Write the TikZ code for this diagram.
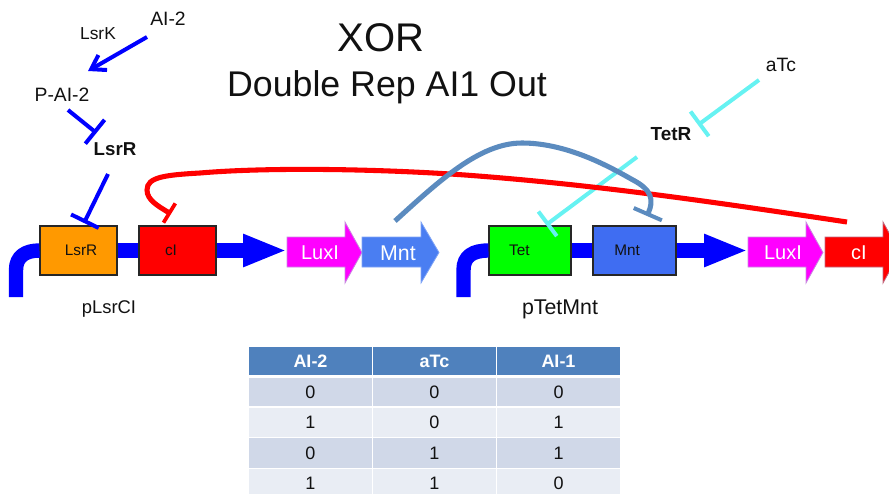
\documentclass[tikz,border=0pt]{standalone}
\usepackage{fontspec}
\setmainfont{Liberation Sans}
\usetikzlibrary{arrows.meta}
\definecolor{cblue}{HTML}{0000FF}
\definecolor{cyanT}{HTML}{66F2F2}
\definecolor{steelC}{HTML}{5B8BBF}
\definecolor{mntA}{HTML}{4A7EF2}
\definecolor{mntB}{HTML}{3F6DF2}
\definecolor{orangeB}{HTML}{FF9900}
\definecolor{greenB}{HTML}{00FF00}
\definecolor{magB}{HTML}{FF00FF}
\definecolor{redB}{HTML}{FF0000}
\definecolor{magE}{HTML}{C88CE0}
\definecolor{redE}{HTML}{C06A80}
\definecolor{thead}{HTML}{4F81BD}
\definecolor{todd}{HTML}{D0D8E8}
\definecolor{teven}{HTML}{E9EDF4}
\definecolor{txt}{HTML}{111111}
\newcommand{\fs}[1]{\fontsize{#1}{#1}\selectfont}
\newcommand{\genearrow}[5]{% x0, headstart, tip, fill, edge
  \fill[#4,draw=#5,line width=.6pt] (#1,237) -- (#2,237) -- (#2,222) -- (#3,252.5) -- (#2,283) -- (#2,267) -- (#1,267) -- cycle;}
\tikzset{
  x=.75pt,y=-.75pt,
  lab/.style={inner sep=0pt,text=txt,font=\fs{14.5}},
  gene/.style={draw=black!85,line width=.8pt,minimum width=#1,minimum height=36.75pt,inner sep=0pt,text=txt,font=\fs{11.5}},
  alab/.style={inner sep=0pt,text=white,font=\fs{15}},
  backbone/.style={cblue,line width=10.8pt},
  runarrow/.style={backbone,-{Triangle[length=33pt,width=22.5pt]}},
  tee/.style={line width=#1,-{Bar[width=23pt,line width=#1]}},
  bluetee/.style={cblue,tee=3pt},
  cyantee/.style={cyanT,tee=3pt},
  hd/.style={fill=thead,text=white,font=\fs{13.5}\bfseries,minimum width=92.25pt,minimum height=21pt,inner sep=0pt},
  ro/.style={fill=todd,text=txt,font=\fs{13.5},minimum width=92.25pt,minimum height=#1,inner sep=0pt},
  re/.style={fill=teven,text=txt,font=\fs{13.5},minimum width=92.25pt,minimum height=#1,inner sep=0pt}
}
\begin{document}
\begin{tikzpicture}
\useasboundingbox (0,0) rectangle (889,493);
% titles
\node[lab,font=\fs{30}] (xor) at (381,38) {XOR};
\node[lab,font=\fs{26.8}] (sub) at (387,87) {Double Rep AI1 Out};
% gene arrows
\genearrow{287}{345}{362}{magB}{magE}
\genearrow{362}{421}{439}{mntA}{mntA!70!white}
\genearrow{748}{806}{823}{magB}{magE}
\genearrow{825}{883}{900}{redB}{redE}
\node[alab] (lux1) at (320,253) {LuxI};
\node[alab,font=\fs{16}] (mnta) at (398,253) {Mnt};
\node[alab] (lux2) at (783,253) {LuxI};
\node[alab] (cia) at (859,253) {cI};
% boxes
\node[gene=57.75pt,fill=orangeB] (boxL) at (78.5,250.5) {LsrR\kern-3.75pt};
\node[gene=57.75pt,fill=redB] (boxC) at (177.5,250.5) {\kern-9.8pt cI};
\node[gene=61.5pt,fill=greenB] (boxT) at (530,250.5) {\kern-15.8pt Tet};
\node[gene=62.25pt,fill=mntB] (boxM) at (634.5,250.5) {\kern-11.2pt Mnt};
% labels
\node[lab] (ai2) at (168,19) {AI-2};
\node[lab,font=\fs{13}] (lsrk) at (98,34) {LsrK};
\node[lab] (pai2) at (62,95) {P-AI-2};
\node[lab,font=\fs{14}\bfseries] (lsrr) at (115,149) {LsrR};
\node[lab] (atc) at (781,65) {aTc};
\node[lab,font=\fs{14.2}\bfseries] (tetr) at (671,134) {TetR};
\node[lab,font=\fs{13.8}] (plsr) at (109,309) {pLsrCI};
\node[lab,font=\fs{16}] (ptet) at (560,309) {pTetMnt};
% backbone
\coordinate (pr1) at (16,297);
\coordinate (pr2) at (463.5,297);
\draw[backbone] (pr1) -- (16,270) .. controls (16,256) and (26,250.5) .. (boxL.west);
\draw[backbone] (boxL.east) -- (boxC.west);
\draw[runarrow] (boxC.east) -- ([shift={(-33,-2.5)}]lux1.center);
\draw[backbone] (pr2) -- (463.5,270) .. controls (463.5,256) and (473,250.5) .. (boxT.west);
\draw[backbone] (boxT.east) -- (boxM.west);
\draw[runarrow] (boxM.east) -- ([shift={(-35,-2.5)}]lux2.center);
% regulation
\draw[cblue,line width=3pt,-{Straight Barb[length=10pt,width=13pt,line width=3pt]}]
  ([shift={(-21,18)}]ai2.center) -- ([shift={(26,-24)}]pai2.center);
\draw[bluetee] ([shift={(6,15)}]pai2.center) -- ([shift={(-18.5,-16)}]lsrr.center);
\draw[bluetee] ([shift={(-7,25)}]lsrr.center) -- ([shift={(5.5,-27.5)}]boxL.center);
\draw[cyantee] ([shift={(-22,15)}]atc.center) -- ([shift={(27,-9)}]tetr.center);
\draw[cyantee] ([shift={(-34,23)}]tetr.center) -- ([shift={(16,-25.5)}]boxT.center);
\draw[redB,line width=3.8pt,-{Bar[width=17pt,line width=2.8pt]}]
  ([shift={(-12,-31)}]cia.center) .. controls (720,203) and (600,185) .. (465,175)
  .. controls (380,169) and (270,167) .. (200,173)
  .. controls (165,175) and (147,177) .. (147,190)
  .. controls (147,200) and (158,206) .. ([shift={(-6.5,-36.5)}]boxC.center);
\draw[steelC,line width=3.8pt,-{Bar[width=23pt,line width=3pt]}]
  ([shift={(-3,-32)}]mnta.center) .. controls (440,180) and (480,143) .. (522,143)
  .. controls (570,143) and (615,170) .. (633,180)
  .. controls (652,190) and (654,200) .. ([shift={(12.5,-34.5)}]boxM.center);
% table
\node[hd] (h1) at (310.5,361) {AI-2};
\node[hd] (h2) at (434.5,361) {aTc};
\node[hd] (h3) at (558.5,361) {AI-1};
\node[ro=21pt] (a1) at (310.5,392) {0};
\node[ro=21pt] (a2) at (434.5,392) {0};
\node[ro=21pt] (a3) at (558.5,392) {0};
\node[re=22pt] (b1) at (310.5,422.5) {1};
\node[re=22pt] (b2) at (434.5,422.5) {0};
\node[re=22pt] (b3) at (558.5,422.5) {1};
\node[ro=22pt] (c1) at (310.5,453) {0};
\node[ro=22pt] (c2) at (434.5,453) {1};
\node[ro=22pt] (c3) at (558.5,453) {1};
\node[re=21pt] (d1) at (310.5,483) {1};
\node[re=21pt] (d2) at (434.5,483) {1};
\node[re=21pt] (d3) at (558.5,483) {0};
\end{tikzpicture}
\end{document}
